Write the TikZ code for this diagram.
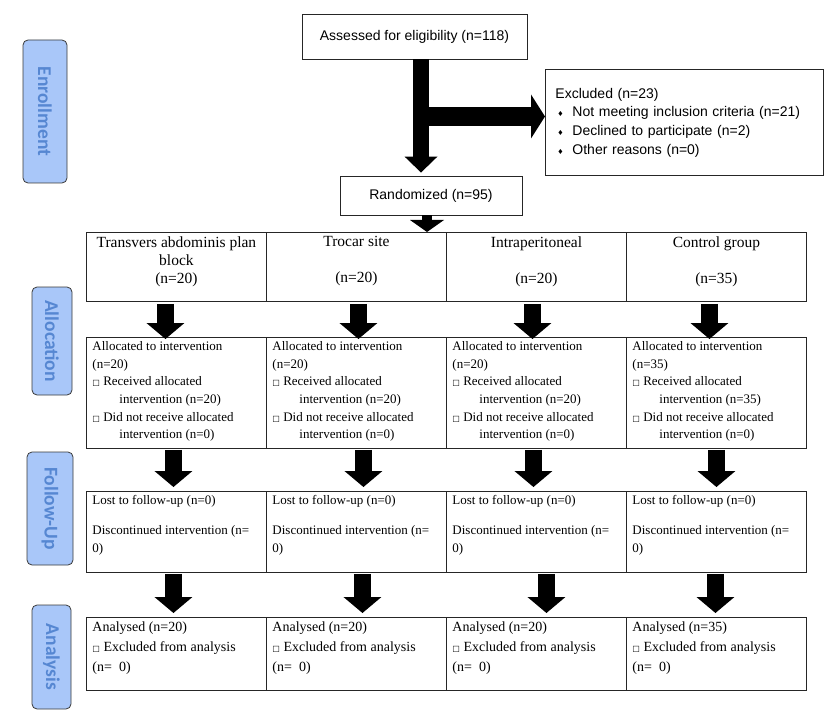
\documentclass[tikz,border=0pt]{standalone}
\usepackage{fontspec}
\setmainfont{Liberation Serif}
\newfontfamily\arialfont{Liberation Sans}
\newfontfamily\lanefont{Carlito}[BoldFont={Carlito Bold}]
\newfontfamily\symfont{DejaVu Sans}
\usetikzlibrary{positioning,arrows.meta}
\definecolor{LaneFill}{HTML}{A9C7F9}
\definecolor{LaneText}{HTML}{5687D2}
\definecolor{LaneEdge}{HTML}{3A3A3A}
\definecolor{BoxEdge}{HTML}{262626}
\newcommand{\tick}{{\symfont\fontsize{8}{8}\selectfont □}}
\newcommand{\bul}{\makebox[17pt][l]{\hspace{2pt}\symfont\fontsize{7}{7}\selectfont ♦}}
\newcommand{\celltop}[2]{\parbox[c][#1][t]{168pt}{#2}}
\tikzset{
  lane/.style={draw=LaneEdge,line width=0.8pt,fill=LaneFill,rounded corners=5pt,
               rotate=-90,text=LaneText,inner sep=0pt,
               font=\lanefont\bfseries\fontsize{19.5}{19.5}\selectfont},
  sansbox/.style={draw=BoxEdge,line width=0.9pt,inner sep=0pt,
                  font=\arialfont\fontsize{14}{18.7}\selectfont},
  cell/.style={draw=BoxEdge,line width=0.9pt,anchor=north west,
               inner xsep=6pt,inner ysep=4pt},
  blockarrow/.style={line width=17pt,
                     -{Triangle[length=16pt,width=38pt,line width=0pt]}},
}

\begin{document}
\begin{tikzpicture}[x=1pt,y=-1pt]
  \useasboundingbox (0,0) rectangle (835,714);
  \node[lane,minimum width=143pt,minimum height=44pt] (enrol) at (45,111.5) {Enrollment};
  \node[lane,minimum width=108pt,minimum height=40pt] (alloc) at (52,341) {Allocation};
  \node[lane,minimum width=113pt,minimum height=46pt] (follow) at (50,508.5) {Follow-Up};
  \node[lane,minimum width=104pt,minimum height=39pt] (anal) at (51.5,657) {Analysis};

  \node[sansbox,minimum width=225pt,minimum height=45pt] (assess) at (414.5,36.5)
        {Assessed for eligibility (n=118)};
  \node[sansbox,anchor=north west,text width=258pt,inner xsep=10pt,align=left,
        minimum height=106pt] (excl) at (545,69)
        {Excluded (n=23)\\
         \bul Not meeting inclusion criteria (n=21)\\
         \bul Declined to participate (n=2)\\
         \bul Other reasons (n=0)};
  \node[sansbox,minimum width=182pt,minimum height=39pt] (rand) at (431,195.5)
        {Randomized (n=95)};

  \foreach \c/\x/\grp/\size in {1/86/{Transvers abdominis plan\\block}/20,
                                2/266/{Trocar site\\\strut}/20,
                                3/446/{Intraperitoneal\\\strut}/20,
                                4/626/{Control group\\\strut}/35} {
    \node[cell] (g\c) at (\x,232)
          {\celltop{61pt}{\centering\fontsize{15.5}{18}\selectfont\grp\\(n=\size)}};
    \node[cell] (a\c) at (\x,337)
          {\celltop{103pt}{\fontsize{13}{17.7}\selectfont
           Allocated to intervention\\(n=\size)\\
           \tick\ Received allocated\\\hspace*{27pt}intervention (n=\size)\\
           \tick\ Did not receive allocated\\\hspace*{27pt}intervention (n=0)}};
    \node[cell] (f\c) at (\x,491)
          {\celltop{73pt}{\fontsize{13}{18}\selectfont
           Lost to follow-up (n=0)\\[12pt]Discontinued intervention (n=\\0)}};
    \node[cell] (n\c) at (\x,617)
          {\celltop{65pt}{\fontsize{14}{20}\selectfont
           Analysed (n=\size)\\\tick\ Excluded from analysis\\(n=~~0)}};
  }

  \coordinate (split) at (421,116.5);
  \draw[blockarrow,line width=16pt,shorten >=3pt,
        -{Triangle[length=16pt,width=33pt,line width=0pt]}]
        (assess.south -| split) -- (rand.north -| split);
  \draw[blockarrow,line width=19pt,
        -{Triangle[length=14pt,width=44pt,line width=0pt]}]
        (split) -- (excl.west |- split);
  \coordinate (randfoot) at ([xshift=-4pt]rand.south);
  \draw[blockarrow,line width=10pt,
        -{Triangle[length=12pt,width=34pt,line width=0pt]}]
        (randfoot) -- (randfoot |- g2.north);

  \foreach \c/\da/\db/\dc in {1/-11/-3/-3, 2/2/7/6, 3/-4/-3/10, 4/-7/0/-1} {
    \draw[blockarrow,shorten <=2pt,shorten >=-2pt]
          ([xshift=\da pt]g\c.south) -- ([xshift=\da pt]a\c.north);
    \draw[blockarrow,shorten <=1pt,shorten >=4pt]
          ([xshift=\db pt]a\c.south) -- ([xshift=\db pt]f\c.north);
    \draw[blockarrow,shorten <=1pt,shorten >=4pt]
          ([xshift=\dc pt]f\c.south) -- ([xshift=\dc pt]n\c.north);
  }
\end{tikzpicture}
\end{document}
